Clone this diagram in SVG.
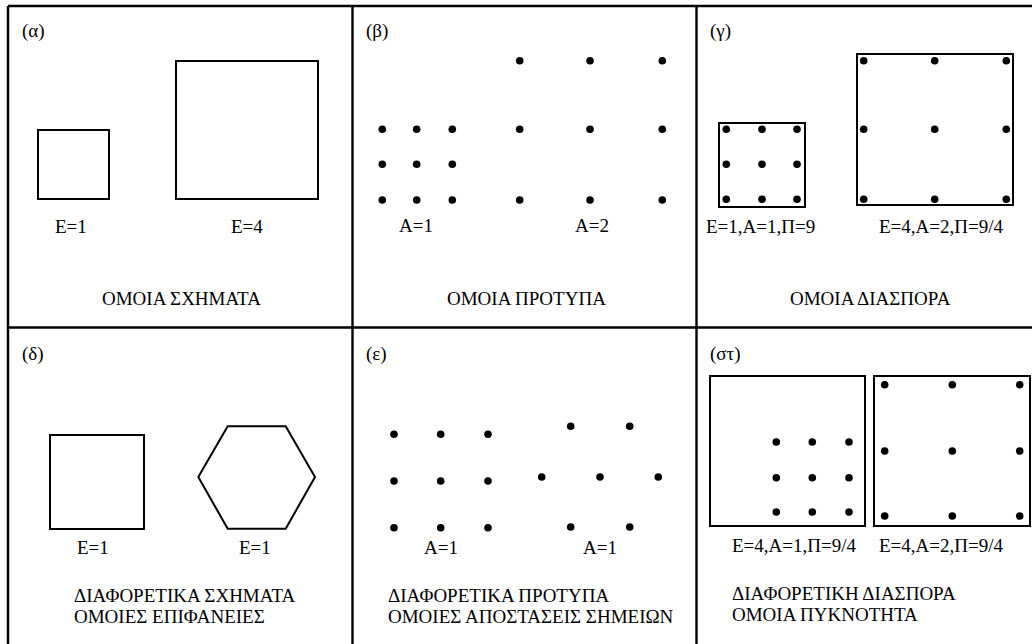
<svg xmlns="http://www.w3.org/2000/svg" width="1032" height="644" viewBox="0 0 1032 644">
<style>
text{font-family:"Liberation Serif","Times New Roman",serif;font-size:19px;fill:#000}
.s{fill:none;stroke:#000;stroke-width:2}
.g{stroke:#000;stroke-width:2.4;fill:none}
</style>
<defs><circle id="dot" r="3.8" fill="#000"/></defs>
<rect width="1032" height="644" fill="#fff"/>
<g id="frame">
<line class="g" x1="8" y1="6" x2="1032" y2="6"/>
<line class="g" x1="8" y1="6" x2="8" y2="644"/>
<line class="g" x1="352.5" y1="6" x2="352.5" y2="644"/>
<line class="g" x1="696.5" y1="6" x2="696.5" y2="644"/>
<line class="g" x1="8" y1="327.5" x2="1032" y2="327.5"/>
</g>
<g id="panel-a">
<text x="22" y="37">(α)</text>
<rect class="s" x="38" y="130" width="71" height="69"/>
<rect class="s" x="176" y="61" width="142" height="138"/>
<text x="55" y="233">E=1</text>
<text x="231" y="233">E=4</text>
<text x="102" y="305">ΟΜΟΙΑ ΣΧΗΜΑΤΑ</text>
</g>
<g id="panel-b">
<text x="366" y="37">(β)</text>
<use href="#dot" x="382.3" y="129.3"/><use href="#dot" x="416.7" y="129.3"/><use href="#dot" x="452.3" y="129.3"/>
<use href="#dot" x="382.3" y="164.3"/><use href="#dot" x="416.7" y="164.3"/><use href="#dot" x="452.3" y="164.3"/>
<use href="#dot" x="382.3" y="200"/><use href="#dot" x="416.7" y="200"/><use href="#dot" x="452.3" y="200"/>
<use href="#dot" x="519.7" y="60.7"/><use href="#dot" x="590" y="60.7"/><use href="#dot" x="662.3" y="60.7"/>
<use href="#dot" x="519.7" y="129.3"/><use href="#dot" x="590" y="129.3"/><use href="#dot" x="662.3" y="129.3"/>
<use href="#dot" x="519.7" y="200"/><use href="#dot" x="590" y="200"/><use href="#dot" x="662.3" y="200"/>
<text x="399" y="232">A=1</text>
<text x="575" y="232">A=2</text>
<text x="447" y="305">ΟΜΟΙΑ ΠΡΟΤΥΠΑ</text>
</g>
<g id="panel-c">
<text x="710" y="37">(γ)</text>
<rect class="s" x="719" y="123" width="86" height="84"/>
<use href="#dot" x="726.3" y="129.3"/><use href="#dot" x="762" y="129.3"/><use href="#dot" x="797" y="129.3"/>
<use href="#dot" x="726.3" y="164.3"/><use href="#dot" x="762" y="164.3"/><use href="#dot" x="797" y="164.3"/>
<use href="#dot" x="726.3" y="199.3"/><use href="#dot" x="762" y="199.3"/><use href="#dot" x="797" y="199.3"/>
<rect class="s" x="857" y="54" width="156" height="151"/>
<use href="#dot" x="863.7" y="60.7"/><use href="#dot" x="934.7" y="60.7"/><use href="#dot" x="1006.3" y="60.7"/>
<use href="#dot" x="863.7" y="129.3"/><use href="#dot" x="934.7" y="129.3"/><use href="#dot" x="1006.3" y="129.3"/>
<use href="#dot" x="863.7" y="199.3"/><use href="#dot" x="934.7" y="199.3"/><use href="#dot" x="1006.3" y="199.3"/>
<text x="706" y="233">E=1,A=1,Π=9</text>
<text x="879" y="233">E=4,A=2,Π=9/4</text>
<text x="790" y="305">ΟΜΟΙΑ ΔΙΑΣΠΟΡΑ</text>
</g>
<g id="panel-d">
<text x="22" y="360">(δ)</text>
<rect class="s" x="50" y="435" width="94" height="94"/>
<polygon class="s" points="198.3,477 227.7,426.3 285.7,426.3 315,477 285.7,528.7 227.7,528.7"/>
<text x="77" y="554">E=1</text>
<text x="239" y="554">E=1</text>
<text x="74" y="602">ΔΙΑΦΟΡΕΤΙΚΑ ΣΧΗΜΑΤΑ</text>
<text x="74" y="623">ΟΜΟΙΕΣ ΕΠΙΦΑΝΕΙΕΣ</text>
</g>
<g id="panel-e">
<text x="366" y="360">(ε)</text>
<use href="#dot" x="394" y="434.3"/><use href="#dot" x="440.7" y="434.3"/><use href="#dot" x="488" y="434.3"/>
<use href="#dot" x="394" y="481"/><use href="#dot" x="440.7" y="481"/><use href="#dot" x="488" y="481"/>
<use href="#dot" x="394" y="527.7"/><use href="#dot" x="440.7" y="527.7"/><use href="#dot" x="488" y="527.7"/>
<use href="#dot" x="570.7" y="426.3"/><use href="#dot" x="629.7" y="426.3"/>
<use href="#dot" x="541.7" y="477"/><use href="#dot" x="600" y="477"/><use href="#dot" x="658.3" y="477"/>
<use href="#dot" x="570.7" y="527"/><use href="#dot" x="629.7" y="527"/>
<text x="424" y="554">A=1</text>
<text x="583" y="554">A=1</text>
<text x="388" y="602">ΔΙΑΦΟΡΕΤΙΚΑ ΠΡΟΤΥΠΑ</text>
<text x="388" y="623">ΟΜΟΙΕΣ ΑΠΟΣΤΑΣΕΙΣ ΣΗΜΕΙΩΝ</text>
</g>
<g id="panel-f">
<text x="710" y="360">(στ)</text>
<rect class="s" x="710" y="376" width="155" height="150"/>
<use href="#dot" x="776.3" y="442"/><use href="#dot" x="812.3" y="442"/><use href="#dot" x="849" y="442"/>
<use href="#dot" x="776.3" y="477.7"/><use href="#dot" x="812.3" y="477.7"/><use href="#dot" x="849" y="477.7"/>
<use href="#dot" x="776.3" y="512"/><use href="#dot" x="812.3" y="512"/><use href="#dot" x="849" y="512"/>
<rect class="s" x="874" y="376" width="156" height="150"/>
<use href="#dot" x="884.7" y="384.7"/><use href="#dot" x="952.3" y="384.7"/><use href="#dot" x="1019.7" y="384.7"/>
<use href="#dot" x="884.7" y="451"/><use href="#dot" x="952.3" y="451"/><use href="#dot" x="1019.7" y="451"/>
<use href="#dot" x="884.7" y="516"/><use href="#dot" x="952.3" y="516"/><use href="#dot" x="1019.7" y="516"/>
<text x="732" y="552">E=4,A=1,Π=9/4</text>
<text x="879" y="552">E=4,A=2,Π=9/4</text>
<text x="732" y="600">ΔΙΑΦΟΡΕΤΙΚΗ ΔΙΑΣΠΟΡΑ</text>
<text x="732" y="621">ΟΜΟΙΑ ΠΥΚΝΟΤΗΤΑ</text>
</g>
</svg>
